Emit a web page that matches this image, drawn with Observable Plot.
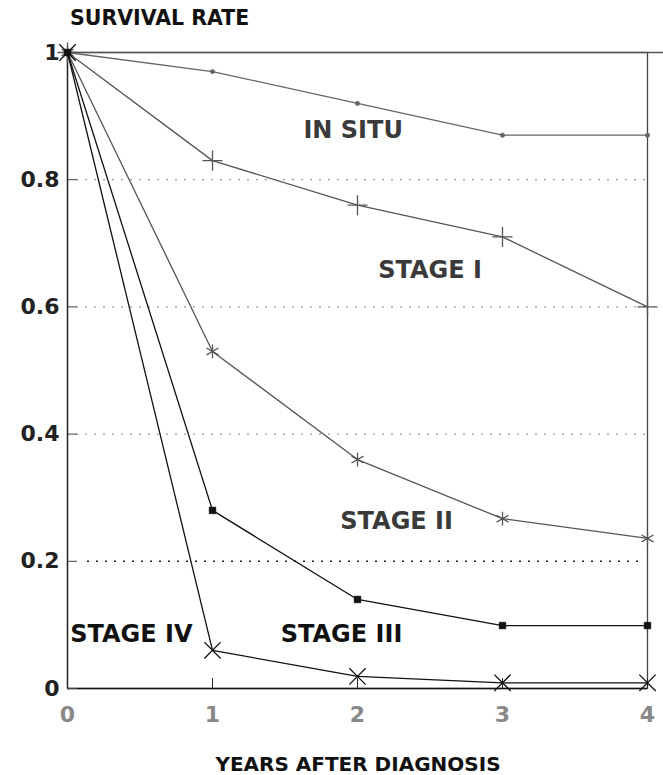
<!DOCTYPE html>
<html><head><meta charset="utf-8">
<script src="https://cdn.jsdelivr.net/npm/d3@7"></script>
<script src="https://cdn.jsdelivr.net/npm/@observablehq/plot@0.6"></script>
<style>
body{margin:0;background:#fff;font-family:"DejaVu Sans",sans-serif;width:663px;overflow:hidden;}
#title{height:36px;padding-left:70px;font-weight:bold;font-size:20.5px;line-height:36px;color:#111;box-sizing:border-box;}
#xlabel{height:35px;padding-top:12px;padding-left:53px;text-align:center;font-weight:bold;font-size:20px;line-height:24px;color:#111;box-sizing:border-box;}
</style></head><body>
<div id="title">SURVIVAL RATE</div>
<div id="chart"></div>
<div id="xlabel">YEARS AFTER DIAGNOSIS</div>
<script>
const years = [0, 1, 2, 3, 4];
const inSitu   = [1, 0.97, 0.92, 0.87, 0.87];
const stageI   = [1, 0.83, 0.76, 0.71, 0.60];
const stageII  = [1, 0.53, 0.36, 0.267, 0.236];
const stageIII = [1, 0.28, 0.14, 0.099, 0.099];
const stageIV  = [1, 0.06, 0.019, 0.009, 0.009];
const seriesNames = ["IN SITU", "STAGE I", "STAGE II", "STAGE III", "STAGE IV"];
const seriesValues = [inSitu, stageI, stageII, stageIII, stageIV];
const yTicks = [0, 0.2, 0.4, 0.6, 0.8, 1];
const xTicks = [0, 1, 2, 3, 4];
const labelYears = [1.97, 2.5, 2.27, 1.89, 0.44];
const labelRates = [0.877, 0.657, 0.263, 0.085, 0.085];

const seriesColor = ["#666", "#555", "#555", "#111", "#111"];
const seriesSymbol = ["circle", "plus", "asterisk", "square", "times"];
const seriesR = [2.2, 6.5, 6.5, 3.8, 7.5];

const rows = [];
seriesNames.forEach((name, s) => {
  years.forEach((yr, i) => rows.push({series: name, year: yr, rate: seriesValues[s][i], s}));
});
const labels = seriesNames.map((name, s) => ({name, year: labelYears[s], rate: labelRates[s], s}));

const marks = [
  Plot.ruleY(yTicks.filter(v => v > 0.2 && v < 1), {stroke: "#999", strokeDasharray: "2,7", strokeWidth: 1.2}),
  Plot.ruleY([0.2], {stroke: "#222", strokeDasharray: "2,7", strokeWidth: 1.6, insetLeft: 20, insetRight: 6}),
  Plot.frame({stroke: "#444", strokeWidth: 1.3}),
  Plot.ruleY([1], {stroke: "#555", strokeWidth: 1.3, insetRight: -16}),
  Plot.ruleX([0], {stroke: "#222", strokeWidth: 1.3}),
  Plot.ruleY([0], {stroke: "#111", strokeWidth: 1.5}),
  Plot.axisY(yTicks, {tickSize: -10, tickFormat: () => "", stroke: "#444", label: null}),
  Plot.axisY(yTicks, {tickSize: 0, tickPadding: 8, tickFormat: d => String(d), fontSize: 22, fontWeight: "bold", fontFamily: "DejaVu Sans", fill: "#222", label: null}),
  Plot.axisX(xTicks, {tickSize: -10, tickFormat: () => "", stroke: "#222", label: null}),
  Plot.axisX(xTicks, {tickSize: 0, tickPadding: 18, tickFormat: d => String(d), fontSize: 22, fontWeight: "bold", fontFamily: "DejaVu Sans", fill: "#888", label: null})
];
seriesNames.forEach((name, s) => {
  const data = rows.filter(r => r.s === s);
  marks.push(Plot.line(data, {x: "year", y: "rate", stroke: seriesColor[s], strokeWidth: 1.3}));
  const symbolFill = seriesSymbol[s] === "circle" || seriesSymbol[s] === "square";
  marks.push(Plot.dot(data, {
    x: "year", y: "rate", symbol: () => seriesSymbol[s], r: seriesR[s],
    fill: symbolFill ? seriesColor[s] : "none",
    stroke: seriesColor[s], strokeWidth: symbolFill ? 0.5 : 1.3
  }));
});
marks.push(Plot.text(labels, {
  x: "year", y: "rate", text: "name", fontSize: 24, fontWeight: "bold", fontFamily: "DejaVu Sans",
  fill: d => d.s < 3 ? "#3a3a3a" : "#111"
}));

const chart = Plot.plot({
  width: 663,
  height: 704,
  marginLeft: 67,
  marginRight: 16,
  marginTop: 16,
  marginBottom: 52,
  x: {domain: [0, 4]},
  y: {domain: [0, 1]},
  symbol: {type: "identity"},
  style: {fontFamily: "DejaVu Sans", background: "#fff", overflow: "visible"},
  marks
});
document.getElementById("chart").appendChild(chart);
</script>
</body></html>
